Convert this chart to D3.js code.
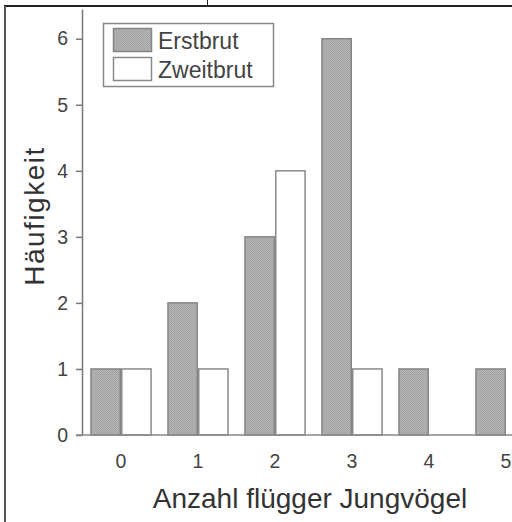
<!DOCTYPE html>
<html>
<head>
<meta charset="utf-8">
<script src="https://cdn.jsdelivr.net/npm/d3@7"></script>
<style>
  html, body { margin: 0; padding: 0; background: #fff; }
  svg { display: block; font-family: "Liberation Sans", Arial, sans-serif; }
</style>
</head>
<body>
<svg id="chart" width="512" height="522"></svg>
<script>
// Number of fledged young per brood
const categories = ["0", "1", "2", "3", "4", "5"];
const seriesNames = ["Erstbrut", "Zweitbrut"];
const erstbrut = [1, 2, 3, 6, 1, 1];
const zweitbrut = [1, 1, 4, 1, 0, 0];
const yTicks = [0, 1, 2, 3, 4, 5, 6];

const svg = d3.select("#chart");

// Dotted grey texture for the first-brood bars
const defs = svg.append("defs");
const pat = defs.append("pattern")
  .attr("id", "dots")
  .attr("width", 2).attr("height", 2)
  .attr("patternUnits", "userSpaceOnUse");
pat.append("rect").attr("width", 2).attr("height", 2).attr("fill", "#b4b4b4");
pat.append("rect").attr("width", 1).attr("height", 1).attr("fill", "#a2a2a2");
pat.append("rect").attr("x", 1).attr("y", 1).attr("width", 1).attr("height", 1).attr("fill", "#a6a6a6");

// Page frame
svg.append("line").attr("x1", 4).attr("x2", 512).attr("y1", 6).attr("y2", 6)
  .attr("stroke", "#222").attr("stroke-width", 2);
svg.append("line").attr("x1", 5).attr("x2", 5).attr("y1", 6).attr("y2", 522)
  .attr("stroke", "#555").attr("stroke-width", 2);
svg.append("line").attr("x1", 207.5).attr("x2", 207.5).attr("y1", 0).attr("y2", 6)
  .attr("stroke", "#222").attr("stroke-width", 1);

// Scales
const x = d3.scaleBand().domain(categories).range([82.5, 544.5])
  .paddingInner(0.2).paddingOuter(0.1);
const xs = d3.scaleBand().domain(seriesNames).range([0, x.bandwidth()]);
const y = d3.scaleLinear().domain([0, 6.45]).range([435, 9]);

const series = [
  { name: "Erstbrut", values: erstbrut, fill: "url(#dots)", stroke: "#858585" },
  { name: "Zweitbrut", values: zweitbrut, fill: "#ffffff", stroke: "#8a8a8a" }
];

// Bars
const g = svg.append("g");
series.forEach(s => {
  g.selectAll(null)
    .data(categories.map((c, i) => ({ c, v: s.values[i] })).filter(d => d.v > 0))
    .join("rect")
    .attr("x", d => x(d.c) + xs(s.name) + 0.75)
    .attr("width", xs.bandwidth() - 1.5)
    .attr("y", d => y(d.v))
    .attr("height", d => y(0) - y(d.v))
    .attr("fill", s.fill)
    .attr("stroke", s.stroke)
    .attr("stroke-width", 1.5);
});

// Y axis
const yAxis = svg.append("g")
  .attr("transform", "translate(82,0)")
  .call(d3.axisLeft(y).tickValues(yTicks).tickFormat(d3.format("d")).tickSize(6).tickSizeOuter(0));
yAxis.select(".domain").attr("stroke", "#777").attr("stroke-width", 1.5);
yAxis.selectAll(".tick line").attr("stroke", "#777").attr("stroke-width", 1.5);
yAxis.selectAll(".tick text").attr("fill", "#444").attr("font-size", 19.5)
  .attr("font-family", "Liberation Sans, Arial, sans-serif").attr("x", -14);

// X axis (labels only, no tick marks)
const xAxis = svg.append("g")
  .attr("transform", "translate(0,435)")
  .call(d3.axisBottom(x).tickSize(0).tickPadding(19));
xAxis.select(".domain").attr("stroke", "#888").attr("stroke-width", 1.5)
  .attr("d", "M76,0H512");
xAxis.selectAll(".tick text").attr("fill", "#444").attr("font-size", 19.5)
  .attr("font-family", "Liberation Sans, Arial, sans-serif");

// Axis titles
svg.append("text")
  .attr("transform", "translate(44,216) rotate(-90)")
  .attr("text-anchor", "middle")
  .attr("font-size", 28).attr("fill", "#333")
  .attr("letter-spacing", 1.5)
  .text("Häufigkeit");
svg.append("text")
  .attr("x", 310).attr("y", 508)
  .attr("text-anchor", "middle")
  .attr("font-size", 28).attr("fill", "#333")
  .text("Anzahl flügger Jungvögel");

// Legend
const lg = svg.append("g");
lg.append("rect").attr("x", 103.5).attr("y", 23.5).attr("width", 170).attr("height", 63)
  .attr("fill", "#fff").attr("stroke", "#888").attr("stroke-width", 1.5);
series.forEach((s, i) => {
  lg.append("rect").attr("x", 113.5).attr("y", 28.5 + i * 29).attr("width", 38).attr("height", 23)
    .attr("fill", s.fill).attr("stroke", s.stroke).attr("stroke-width", 1.5);
  lg.append("text").attr("x", 158).attr("y", 48.5 + i * 29)
    .attr("font-size", 23).attr("fill", "#444").text(s.name);
});
</script>
</body>
</html>
